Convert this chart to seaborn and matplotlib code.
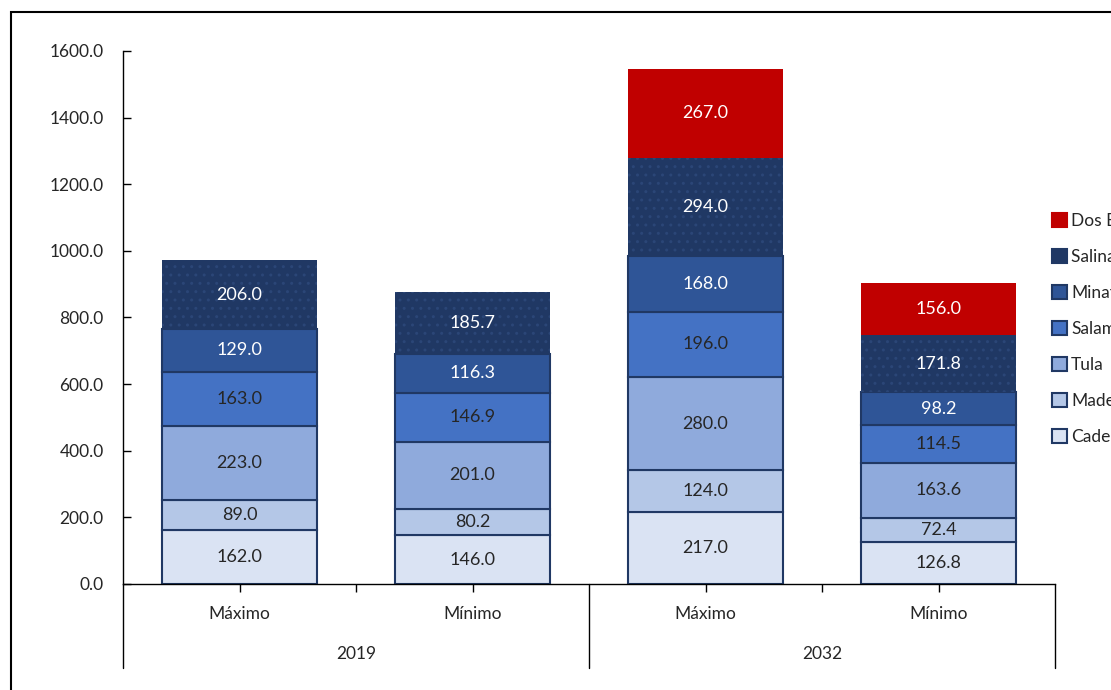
import numpy as np
import matplotlib
matplotlib.use('Agg')
import matplotlib.pyplot as plt
import matplotlib.transforms as mtransforms
from matplotlib.patches import Rectangle, Patch
import seaborn as sns

# Datos (miles de barriles diarios)
escenarios = ['Máximo', 'Mínimo', 'Máximo', 'Mínimo']
anios = ['2019', '2032']
refinerias = ['Cadereyta', 'Madero', 'Tula', 'Salamanca', 'Minatitlán', 'Salina Cruz', 'Dos Bocas']

cadereyta = [162.0, 146.0, 217.0, 126.8]
madero = [89.0, 80.2, 124.0, 72.4]
tula = [223.0, 201.0, 280.0, 163.6]
salamanca = [163.0, 146.9, 196.0, 114.5]
minatitlan = [129.0, 116.3, 168.0, 98.2]
salina_cruz = [206.0, 185.7, 294.0, 171.8]
dos_bocas = [0.0, 0.0, 267.0, 156.0]

series = [cadereyta, madero, tula, salamanca, minatitlan, salina_cruz, dos_bocas]
colores = ['#DAE3F3', '#B4C7E7', '#8FAADC', '#4472C4', '#2F5597', '#203864', '#C00000']
color_texto = ['#262626', '#262626', '#262626', '#262626', 'white', 'white', 'white']

sns.set_style('white')
plt.rcParams['font.family'] = ['Lato', 'DejaVu Sans']

fig = plt.figure(figsize=(11.11, 6.9), dpi=100)
ax = fig.add_axes([123 / 1111, 106 / 690, 932 / 1111, 533 / 690])

x = np.arange(len(escenarios))
base = np.zeros(len(escenarios))
for nombre, valores, col, tcol in zip(refinerias, series, colores, color_texto):
    vals = np.array(valores)
    if nombre == 'Dos Bocas':
        ec, lw, hatch = col, 0, None
    elif nombre == 'Salina Cruz':
        ec, lw, hatch = '#2b4677', 0, '..'
    else:
        ec, lw, hatch = '#203864', 1.5, None
    sns.barplot(x=x, y=vals, bottom=base, color=col, width=0.665, errorbar=None,
                saturation=1, edgecolor=ec, linewidth=lw, hatch=hatch, ax=ax)
    for xi, v, b in zip(x, vals, base):
        if v > 0:
            ax.text(xi, b + v / 2, f'{v:.1f}', ha='center', va='center',
                    fontsize=13, color=tcol)
    base = base + vals

ax.set_ylim(0, 1600)
ax.set_xlim(-0.5, 3.5)
ax.set_yticks(np.arange(0, 1601, 200))
ax.set_yticklabels([f'{v:.1f}' for v in np.arange(0, 1601, 200)], fontsize=12.5, color='#262626')
ax.tick_params(axis='y', direction='in', length=6, width=1, color='black', pad=14, left=True)

ax.set_xticks(x)
ax.set_xticklabels(escenarios, fontsize=12.5, color='#262626')
ax.set_xticks([0.5, 2.5], minor=True)
ax.tick_params(axis='x', which='both', direction='out', length=6, width=1, color='black', bottom=True, pad=10)
ax.set_xlabel('')
ax.set_ylabel('')

for s in ['top', 'right']:
    ax.spines[s].set_visible(False)
ax.spines['left'].set_color('black')
ax.spines['bottom'].set_color('black')
ax.spines['left'].set_linewidth(1)
ax.spines['bottom'].set_linewidth(1)

# separadores de grupo y etiquetas de año
trans = mtransforms.blended_transform_factory(ax.transData, ax.transAxes)
for xs in [-0.5, 1.5, 3.5]:
    ax.plot([xs, xs], [0, -84 / 533], color='black', lw=1, transform=trans, clip_on=False)
for xc, anio in zip([0.5, 2.5], anios):
    ax.text(xc, -70 / 533, anio, transform=trans, ha='center', va='center',
            fontsize=12.5, color='#262626')

# leyenda (cortada por el borde derecho, como en el original)
handles = [Patch(facecolor=c, edgecolor=('#203864' if n != 'Dos Bocas' else c), linewidth=1.5)
           for n, c in zip(refinerias, colores)]
leg = fig.legend(handles[::-1], refinerias[::-1], loc='upper left',
                 bbox_to_anchor=(1045 / 1111, 1 - 206 / 690), frameon=False,
                 fontsize=12.5, handlelength=0.85, handleheight=0.85, handletextpad=0.25,
                 labelspacing=1.15, borderaxespad=0)
for t in leg.get_texts():
    t.set_color('#262626')

# marco exterior
fig.patches.append(Rectangle((11 / 1111, -0.01), 1.2, 1 - 12 / 690 + 0.01,
                             transform=fig.transFigure, fill=False,
                             edgecolor='black', linewidth=1.5))

fig.savefig('out.png', dpi=100)
